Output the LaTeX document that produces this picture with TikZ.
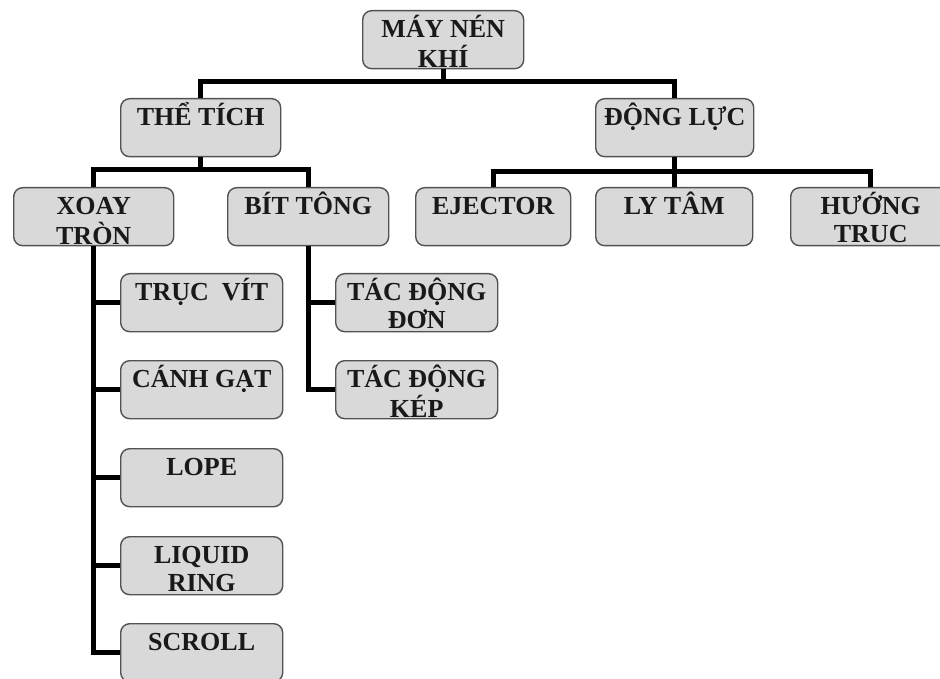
\documentclass[tikz,border=0pt]{standalone}
\usepackage{fontspec}
\setmainfont{Liberation Serif}
% two centred lines whose baseline is the first line's
\newcommand{\twolines}[2]{\begin{tabular}[t]{@{}c@{}}#1\\#2\end{tabular}}
\begin{document}
\begin{tikzpicture}[x=1pt,y=-1pt,
  box/.style={draw=black!68, fill=black!15, line width=1.4pt, rounded corners=9pt,
    minimum width=161pt, minimum height=58pt, inner sep=0pt, anchor=north west},
  lbl/.style={font=\bfseries\fontsize{26}{28}\selectfont, anchor=north,
    text height=18pt, inner sep=0pt, text=black!90},
  conn/.style={line width=5pt, line join=miter}]
\useasboundingbox (0,0) rectangle (940,679);
\clip (0,0) rectangle (940,679);

% boxes
\node[box] (root) at (362,10) {};
\node[box, minimum width=160pt] (the) at (120,98) {};
\node[box, minimum width=158pt] (dl) at (595,98) {};
\node[box, minimum width=160pt] (xt) at (13,187) {};
\node[box] (bt) at (227,187) {};
\node[box, minimum width=155pt] (ej) at (415,187) {};
\node[box, minimum width=157pt] (lt) at (595,187) {};
\node[box, minimum width=160pt] (ht) at (790,187) {};
\node[box, minimum width=162pt] (tv) at (120,273) {};
\node[box, minimum width=162pt] (cg) at (120,360) {};
\node[box, minimum width=162pt] (lope) at (120,448) {};
\node[box, minimum width=162pt] (lr) at (120,536) {};
\node[box, minimum width=162pt] (sc) at (120,623) {};
\node[box, minimum width=162pt] (td1) at (335,273) {};
\node[box, minimum width=162pt] (td2) at (335,360) {};

% labels
\node[lbl] (root-t) at ([yshift=-9pt]root.north) {\twolines{MÁY NÉN}{KHÍ}};
\node[lbl] (the-t) at ([yshift=-9pt]the.north) {THỂ TÍCH};
\node[lbl] (dl-t) at ([yshift=-9pt]dl.north) {ĐỘNG LỰC};
\node[lbl] (xt-t) at ([yshift=-9pt]xt.north) {\twolines{XOAY}{TRÒN}};
\node[lbl] (bt-t) at ([yshift=-9pt]bt.north) {BÍT TÔNG};
\node[lbl] (ej-t) at ([yshift=-9pt]ej.north) {EJECTOR};
\node[lbl] (lt-t) at ([yshift=-9pt]lt.north) {LY TÂM};
\node[lbl] (ht-t) at ([yshift=-9pt]ht.north) {\twolines{HƯỚNG}{TRUC}};
\node[lbl] (tv-t) at ([yshift=-9pt]tv.north) {TRỤC\ \ VÍT};
\node[lbl] (cg-t) at ([yshift=-9pt]cg.north) {CÁNH GẠT};
\node[lbl] (lope-t) at ([yshift=-9pt]lope.north) {LOPE};
\node[lbl] (lr-t) at ([yshift=-9pt]lr.north) {\twolines{LIQUID}{RING}};
\node[lbl] (sc-t) at ([yshift=-9pt]sc.north) {SCROLL};
\node[lbl] (td1-t) at ([yshift=-9pt]td1.north) {\twolines{TÁC ĐỘNG}{ĐƠN}};
\node[lbl] (td2-t) at ([yshift=-9pt]td2.north) {\twolines{TÁC ĐỘNG}{KÉP}};

% connectors
\draw[conn] (root.south) -- (root.south |- 0,82);
\draw[conn] (the.north) |- (dl.north |- 0,82) -- (dl.north);

\draw[conn] (the.south) -- (the.south |- 0,170);
\draw[conn] (xt.north) |- (bt.north |- 0,170) -- (bt.north);

\draw[conn] (dl.south) -- (dl.south |- 0,172);
\draw[conn] (ej.north) |- (ht.north |- 0,172) -- (ht.north);
\draw[conn] (lt.north) -- (lt.north |- 0,172);

\draw[conn] (xt.south) |- (sc.west);
\foreach \n in {tv,cg,lope,lr}
  \draw[conn] (xt.south |- \n.west) -- (\n.west);

\draw[conn] (bt.south) |- (td2.west);
\draw[conn] (bt.south |- td1.west) -- (td1.west);
\end{tikzpicture}
\end{document}
